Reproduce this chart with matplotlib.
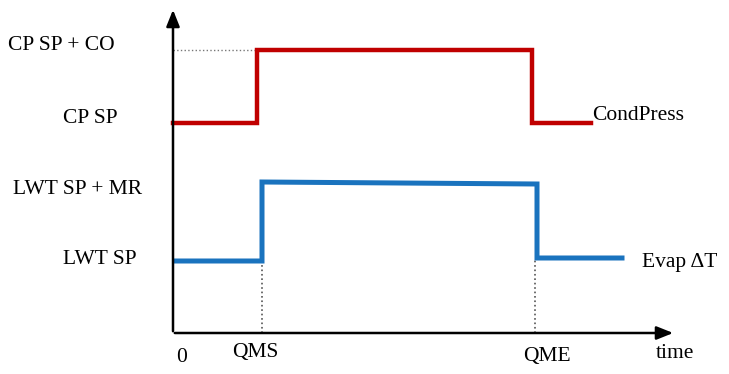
import matplotlib.pyplot as plt

# time axis positions (pixel-ish units measured from origin)
cp_time = [0, 84, 84, 359, 359, 418]
cp_level = [210, 210, 283, 283, 210, 210]
evap_time = [2, 89, 89, 364, 364, 449]
evap_level = [72, 72, 151, 149, 75, 75]

y_labels = ["CP SP + CO", "CP SP", "LWT SP + MR", "LWT SP"]
x_ticks = [9, 82, 374]
x_labels = ["0", "QMS", "QME"]

plt.rcParams['font.family'] = ['Liberation Serif', 'DejaVu Serif']

fig = plt.figure(figsize=(7.29, 3.74), dpi=100)
ax = fig.add_axes([0, 0, 1, 1])
ax.set_xlim(-173, 556)
ax.set_ylim(-41, 333)
ax.axis('off')

# axes arrows
ax.annotate("", xy=(0, 326), xytext=(0, -1),
            arrowprops=dict(arrowstyle="-|>,head_length=1.0,head_width=0.4", color="black", lw=1.8))
ax.annotate("", xy=(503, 0), xytext=(-1, 0),
            arrowprops=dict(arrowstyle="-|>,head_length=1.0,head_width=0.4", color="black", lw=1.8))

# dotted guides
ax.plot([0, cp_time[1]], [cp_level[2], cp_level[2]], ls=":", color="#777777", lw=1)
ax.plot([evap_time[1], evap_time[1]], [0, evap_level[0]], ls=":", color="#555555", lw=1.2)
ax.plot([evap_time[3] - 2, evap_time[3] - 2], [0, evap_level[4]], ls=":", color="#555555", lw=1.2)

ax.plot(cp_time, cp_level, color="#C00000", lw=3.2, solid_joinstyle="miter")
ax.plot(evap_time, evap_level, color="#1A73BE", lw=3.6, solid_joinstyle="miter")

fs = 15.5
label_y = [288, 215, 144, 73]
right_edges = [-58, -55, -31, -36]
for y, lab, r in zip(label_y, y_labels, right_edges):
    ax.text(r, y, lab, ha="right", va="center", fontsize=fs)

for x, lab, y in zip(x_ticks, x_labels, [-25, -20, -24]):
    ax.text(x, y, lab, ha="center", va="center", fontsize=fs)

ax.text(502, -20, "time", ha="center", va="center", fontsize=fs)
ax.text(cp_time[-1] + 1, cp_level[-1] + 8, "CondPress", ha="left", va="center", fontsize=fs)
ax.text(469, 70, "Evap ΔT", ha="left", va="center", fontsize=fs)

fig.savefig("out.png", dpi=100)
